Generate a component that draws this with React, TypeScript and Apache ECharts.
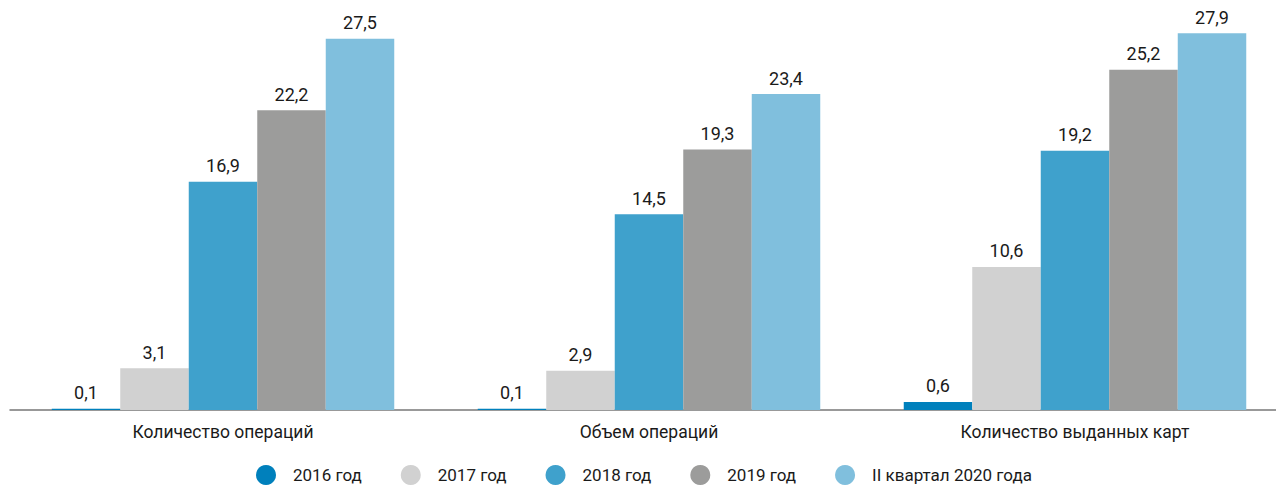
import React, { useEffect, useRef } from "react";
import * as echarts from "echarts";

const categories = ["Количество операций", "Объем операций", "Количество выданных карт"];
const seriesNames = ["2016 год", "2017 год", "2018 год", "2019 год", "II квартал 2020 года"];
const values2016 = [0.1, 0.1, 0.6];
const values2017 = [3.1, 2.9, 10.6];
const values2018 = [16.9, 14.5, 19.2];
const values2019 = [22.2, 19.3, 25.2];
const values2020 = [27.5, 23.4, 27.9];
const seriesValues = [values2016, values2017, values2018, values2019, values2020];
const colors = ["#0080BC", "#D1D1D1", "#3FA1CC", "#9C9C9B", "#80BFDD"];

const FONT = "Roboto, 'Noto Sans', sans-serif";

export default function App() {
  const ref = useRef<HTMLDivElement>(null);
  useEffect(() => {
    if (!ref.current) return;
    const chart = echarts.init(ref.current, undefined, { renderer: "svg" });
    chart.setOption({
      animation: false,
      textStyle: { fontFamily: FONT },
      grid: { left: 10, top: 5, right: 0, bottom: 76, containLabel: false },
      legend: {
        left: 251,
        top: 460,
        icon: "circle",
        itemWidth: 20,
        itemHeight: 20,
        itemGap: 39,
        textStyle: { fontSize: 17, color: "#1a1a1a", fontFamily: FONT, padding: [0, 0, 0, 12] },
        data: seriesNames,
      },
      xAxis: {
        type: "category",
        data: categories,
        axisLine: { lineStyle: { color: "#777777", width: 1.5 } },
        axisTick: { show: false },
        axisLabel: { fontSize: 17.5, color: "#1a1a1a", margin: 13, fontFamily: FONT },
      },
      yAxis: {
        type: "value",
        min: 0,
        max: 30,
        show: false,
        splitLine: { show: false },
      },
      series: seriesNames.map((name, i) => ({
        name,
        type: "bar",
        data: seriesValues[i],
        barWidth: 68.5,
        barGap: "0%",
        itemStyle: { color: colors[i] },
        label: {
          show: true,
          position: "top",
          distance: 7,
          fontSize: 18,
          color: "#1a1a1a",
          fontFamily: FONT,
          formatter: (p: any) => Number(p.value).toFixed(1).replace(".", ","),
        },
      })),
    });
    return () => chart.dispose();
  }, []);
  return (
    <div
      style={{ position: "absolute", left: 0, top: 0, width: 1276, height: 486, overflow: "hidden", background: "#ffffff" }}
    >
      <div ref={ref} style={{ width: 1288, height: 486 }} />
    </div>
  );
}
